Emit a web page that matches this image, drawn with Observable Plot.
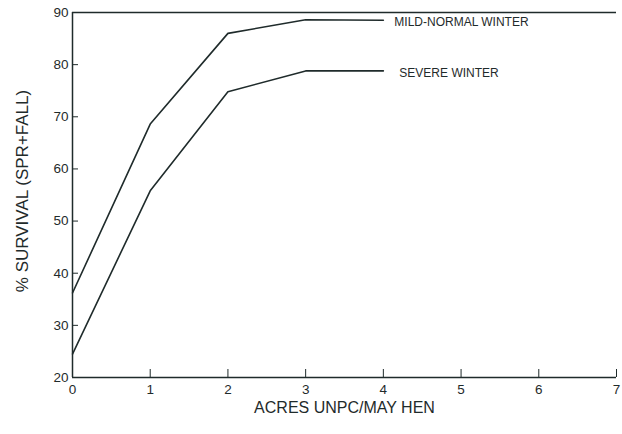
<!DOCTYPE html>
<html>
<head>
<meta charset="utf-8">
<script src="https://cdn.jsdelivr.net/npm/d3@7"></script>
<script src="https://cdn.jsdelivr.net/npm/@observablehq/plot@0.6"></script>
<style>
  html, body { margin: 0; padding: 0; background: #fff; }
  #chart svg { display: block; }
</style>
</head>
<body>
<div id="chart"></div>
<script>
const acres = [0, 1, 2, 3, 4];
const mildNormal = [36.2, 68.6, 86, 88.6, 88.5];
const severe = [24.5, 55.8, 74.8, 78.8, 78.8];
const seriesNames = ["MILD-NORMAL WINTER", "SEVERE WINTER"];
const xTicks = [0, 1, 2, 3, 4, 5, 6, 7];
const yTicks = [20, 30, 40, 50, 60, 70, 80, 90];
const xLabel = "ACRES UNPC/MAY HEN";
const yLabel = "% SURVIVAL (SPR+FALL)";

const rows = [];
acres.forEach((a, i) => {
  rows.push({series: seriesNames[0], x: a, y: mildNormal[i]});
  rows.push({series: seriesNames[1], x: a, y: severe[i]});
});
const last = acres.length - 1;
const endMild = [{series: seriesNames[0], x: acres[last], y: mildNormal[last]}];
const endSevere = [{series: seriesNames[1], x: acres[last], y: severe[last]}];

const ink = "#1f2b2b";
const font = "'Liberation Sans Narrow', 'Liberation Sans', sans-serif";

const chart = Plot.plot({
  width: 622,
  height: 434,
  marginLeft: 72,
  marginRight: 6,
  marginTop: 12,
  marginBottom: 57,
  style: {fontFamily: font, color: ink, background: "#fff"},
  x: {domain: [0, 7], ticks: xTicks},
  y: {domain: [20, 90], ticks: yTicks},
  marks: [
    Plot.ruleY([90], {stroke: ink, strokeWidth: 1.5, x1: 0, x2: 7}),
    Plot.ruleY([20], {stroke: ink, strokeWidth: 1.5}),
    Plot.ruleX([0], {stroke: ink, strokeWidth: 1.5}),
    Plot.axisY({ticks: yTicks, tickSize: -6, tickFormat: () => "", label: null, stroke: ink}),
    Plot.axisY({ticks: yTicks, tickSize: 0, tickPadding: 4, tickFormat: "d", fontSize: 13.5, label: null, fill: ink}),
    Plot.axisX({ticks: xTicks, tickSize: -8, tickFormat: () => "", label: null, stroke: ink}),
    Plot.axisX({ticks: xTicks, tickSize: 0, tickPadding: 7, tickFormat: "d", fontSize: 13.5, label: null, fill: ink}),
    Plot.line(rows, {x: "x", y: "y", z: "series", stroke: ink, strokeWidth: 1.6}),
    Plot.text(endMild, {x: "x", y: "y", text: "series", textAnchor: "start", dx: 11, dy: 2, fontSize: 12, fill: ink}),
    Plot.text(endSevere, {x: "x", y: "y", text: "series", textAnchor: "start", dx: 16, dy: 2, fontSize: 12, fill: ink}),
    Plot.text([xLabel], {frameAnchor: "bottom", dy: 35, fontSize: 16, fill: ink}),
    Plot.text([yLabel], {frameAnchor: "left", textAnchor: "middle", dx: -50, dy: -4, rotate: -90, fontSize: 17, fill: ink})
  ]
});
document.getElementById("chart").appendChild(chart);
</script>
</body>
</html>
